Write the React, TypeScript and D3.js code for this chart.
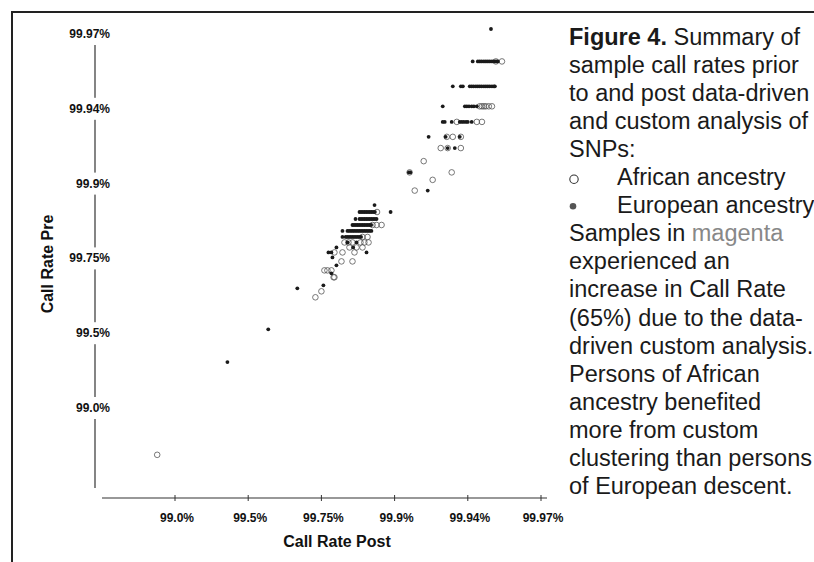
import { useRef, useEffect } from "react";
import * as d3 from "d3";

// tick values of both axes (the axes are not linear, ticks are equally spaced)
const tickValues = [99.0, 99.5, 99.75, 99.9, 99.94, 99.97];
const tickLabels = ["99.0%", "99.5%", "99.75%", "99.9%", "99.94%", "99.97%"];

// [call rate post, call rate pre]
const european: [number, number][] = [
  [99.9495, 99.972],
  [99.942, 99.959], [99.9441, 99.959], [99.9449, 99.959], [99.9457, 99.959], [99.9466, 99.959],
  [99.9474, 99.959], [99.9482, 99.959], [99.949, 99.959], [99.9499, 99.959], [99.9507, 99.959],
  [99.9515, 99.959], [99.9523, 99.959],
  [99.9318, 99.949], [99.9362, 99.949], [99.9373, 99.949], [99.9408, 99.949], [99.9416, 99.949],
  [99.9424, 99.949], [99.9433, 99.949], [99.9441, 99.949], [99.9449, 99.949], [99.9457, 99.949],
  [99.9466, 99.949], [99.9474, 99.949], [99.9482, 99.949], [99.949, 99.949], [99.9499, 99.949],
  [99.9507, 99.949], [99.9511, 99.949],
  [99.9263, 99.941], [99.9384, 99.941], [99.9395, 99.941], [99.9405, 99.941], [99.9416, 99.941],
  [99.9425, 99.941], [99.9437, 99.941],
  [99.9263, 99.933], [99.9274, 99.933], [99.9312, 99.933], [99.9356, 99.933], [99.9367, 99.933],
  [99.9378, 99.933], [99.939, 99.933], [99.94, 99.933], [99.9416, 99.933],
  [99.9186, 99.925], [99.9279, 99.925], [99.9356, 99.925],
  [99.929, 99.919], [99.9329, 99.919],
  [99.9078, 99.906], [99.9086, 99.906],
  [99.9181, 99.886],
  [99.8589, 99.857],
  [99.8281, 99.843], [99.8315, 99.843], [99.835, 99.843], [99.8385, 99.843], [99.842, 99.843],
  [99.8455, 99.843], [99.849, 99.843], [99.8525, 99.843], [99.856, 99.843], [99.8595, 99.843],
  [99.8918, 99.843],
  [99.8199, 99.829], [99.8281, 99.829], [99.8315, 99.829], [99.835, 99.829], [99.8385, 99.829],
  [99.842, 99.829], [99.8455, 99.829], [99.849, 99.829], [99.8525, 99.829], [99.856, 99.829],
  [99.8595, 99.829], [99.863, 99.829],
  [99.8137, 99.817], [99.817, 99.817], [99.8205, 99.817], [99.824, 99.817], [99.8275, 99.817],
  [99.831, 99.817], [99.8345, 99.817], [99.838, 99.817], [99.8415, 99.817], [99.845, 99.817],
  [99.8485, 99.817], [99.852, 99.817],
  [99.7932, 99.805], [99.8034, 99.805], [99.807, 99.805], [99.8105, 99.805], [99.814, 99.805],
  [99.8175, 99.805], [99.821, 99.805], [99.8245, 99.805], [99.828, 99.805], [99.8315, 99.805],
  [99.835, 99.805], [99.8385, 99.805], [99.842, 99.805], [99.8455, 99.805], [99.849, 99.805],
  [99.8525, 99.805],
  [99.7932, 99.793], [99.7997, 99.793], [99.8032, 99.793], [99.8067, 99.793], [99.8102, 99.793],
  [99.8137, 99.793], [99.8172, 99.793], [99.8207, 99.793], [99.8242, 99.793], [99.8277, 99.793],
  [99.8312, 99.793],
  [99.8035, 99.782], [99.822, 99.782],
  [99.7808, 99.772], [99.815, 99.772],
  [99.7644, 99.762], [99.7705, 99.762], [99.8425, 99.762],
  [99.7726, 99.752],
  [99.7808, 99.727],
  [99.7705, 99.70],
  [99.7541, 99.66],
  [99.6678, 99.65],
  [99.5685, 99.513],
  [99.3581, 99.307],
];

const african: [number, number][] = [
  [99.9515, 99.959], [99.954, 99.959],
  [99.9449, 99.941], [99.9458, 99.941], [99.9466, 99.941], [99.9474, 99.941], [99.9486, 99.941],
  [99.9499, 99.941],
  [99.934, 99.933], [99.9437, 99.933], [99.9458, 99.933],
  [99.9285, 99.925], [99.9318, 99.925], [99.9362, 99.925],
  [99.9252, 99.919], [99.929, 99.919], [99.9362, 99.919],
  [99.9159, 99.912],
  [99.9082, 99.906], [99.9312, 99.906],
  [99.9208, 99.902],
  [99.911, 99.886],
  [99.864, 99.843],
  [99.8548, 99.817], [99.863, 99.817], [99.8733, 99.817],
  [99.8342, 99.793], [99.8445, 99.793],
  [99.7973, 99.782], [99.8055, 99.782], [99.8137, 99.782], [99.83, 99.782], [99.838, 99.782],
  [99.8466, 99.782],
  [99.8075, 99.772], [99.8219, 99.772], [99.8342, 99.772],
  [99.7767, 99.762], [99.7932, 99.762], [99.8178, 99.762],
  [99.7911, 99.74], [99.8137, 99.74],
  [99.7562, 99.71], [99.7623, 99.71], [99.7705, 99.71],
  [99.775, 99.687], [99.7767, 99.687],
  [99.75, 99.64],
  [99.7295, 99.62],
  [98.8784, 98.687],
];

const captionLines = [
  "sample call rates prior",
  "to and post data-driven",
  "and custom analysis of",
  "SNPs:",
];
const legendLabels = ["African ancestry", "European ancestry"];
const captionRest = [
  "experienced an",
  "increase in Call Rate",
  "(65%) due to the data-",
  "driven custom analysis.",
  "Persons of African",
  "ancestry benefited",
  "more from custom",
  "clustering than persons",
  "of European descent.",
];

export default function App() {
  const svgRef = useRef<SVGSVGElement>(null);

  useEffect(() => {
    const svg = d3.select(svgRef.current).html(null);

    const x = d3.scaleLinear()
      .domain(tickValues)
      .range(tickValues.map((_, i) => 175 + i * 73.2));
    const y = d3.scaleLinear()
      .domain(tickValues)
      .range(tickValues.map((_, i) => 408 - i * 74.8));

    const axisFont = "'Liberation Sans', Arial, sans-serif";

    // scan border
    svg.append("line").attr("x1", 12).attr("y1", 12).attr("x2", 814).attr("y2", 12)
      .attr("stroke", "#222").attr("stroke-width", 2);
    svg.append("line").attr("x1", 12).attr("y1", 11).attr("x2", 12).attr("y2", 562)
      .attr("stroke", "#222").attr("stroke-width", 2);

    // y axis
    svg.append("line").attr("x1", 95).attr("x2", 95)
      .attr("y1", y(99.97)).attr("y2", 488)
      .attr("stroke", "#333").attr("stroke-width", 1.2);

    const yTick = svg.append("g").selectAll("g").data(tickValues).join("g")
      .attr("transform", d => `translate(0,${y(d)})`);
    yTick.append("rect").attr("x", 64).attr("y", -11).attr("width", 50).attr("height", 22)
      .attr("fill", "#fff");
    yTick.append("text")
      .attr("x", 110).attr("y", 4)
      .attr("text-anchor", "end")
      .attr("font-family", axisFont).attr("font-weight", "bold").attr("font-size", 12)
      .attr("fill", "#111")
      .text((_, i) => tickLabels[i]);

    // x axis
    svg.append("line").attr("x1", 102).attr("x2", 547).attr("y1", 498).attr("y2", 498)
      .attr("stroke", "#333").attr("stroke-width", 1.2);
    const xTick = svg.append("g").selectAll("g").data(tickValues).join("g")
      .attr("transform", d => `translate(${x(d)},498)`);
    xTick.append("line").attr("y1", -3).attr("y2", 3).attr("stroke", "#333");
    xTick.append("text")
      .attr("x", 2).attr("y", 24)
      .attr("text-anchor", "middle")
      .attr("font-family", axisFont).attr("font-weight", "bold").attr("font-size", 12)
      .attr("fill", "#111")
      .text((_, i) => tickLabels[i]);

    // axis titles
    svg.append("text").attr("x", 337).attr("y", 547)
      .attr("text-anchor", "middle")
      .attr("font-family", axisFont).attr("font-weight", "bold").attr("font-size", 16)
      .attr("fill", "#111").text("Call Rate Post");
    svg.append("text")
      .attr("transform", "translate(53,264) rotate(-90)")
      .attr("text-anchor", "middle")
      .attr("font-family", axisFont).attr("font-weight", "bold").attr("font-size", 16)
      .attr("fill", "#111").text("Call Rate Pre");

    // points
    svg.append("g").selectAll("circle").data(african).join("circle")
      .attr("cx", d => x(d[0])).attr("cy", d => y(d[1]))
      .attr("r", 2.8).attr("fill", "none")
      .attr("stroke", "#555").attr("stroke-width", 0.8);
    svg.append("g").selectAll("circle").data(european).join("circle")
      .attr("cx", d => x(d[0])).attr("cy", d => y(d[1]))
      .attr("r", 1.9).attr("fill", "#1a1a1a");

    // caption
    const capFont = "'Liberation Sans', Arial, Helvetica, sans-serif";
    const cap = svg.append("g")
      .attr("font-family", capFont).attr("font-size", 23.5).attr("fill", "#1a1a1a");
    const lineY = (i: number) => 45 + i * 28.05;
    const first = cap.append("text").attr("x", 569).attr("y", lineY(0));
    first.append("tspan").attr("font-weight", "bold").text("Figure 4.");
    first.append("tspan").text(" Summary of");
    captionLines.forEach((t, i) => {
      cap.append("text").attr("x", 569).attr("y", lineY(i + 1)).text(t);
    });
    legendLabels.forEach((t, i) => {
      cap.append("text").attr("x", 617).attr("y", lineY(i + 5)).text(t);
    });
    cap.append("circle").attr("cx", 574).attr("cy", lineY(5) - 6).attr("r", 4.2)
      .attr("fill", "none").attr("stroke", "#333").attr("stroke-width", 1.1);
    cap.append("circle").attr("cx", 573).attr("cy", lineY(6) - 7).attr("r", 3.3)
      .attr("fill", "#555");
    const mag = cap.append("text").attr("x", 569).attr("y", lineY(7));
    mag.append("tspan").text("Samples in ");
    mag.append("tspan").attr("fill", "#888").text("magenta");
    captionRest.forEach((t, i) => {
      cap.append("text").attr("x", 569).attr("y", lineY(i + 8)).text(t);
    });
  }, []);

  return (
    <svg
      ref={svgRef}
      width={814}
      height={562}
      style={{ position: "absolute", left: 0, top: 0, background: "#fff" }}
    />
  );
}
